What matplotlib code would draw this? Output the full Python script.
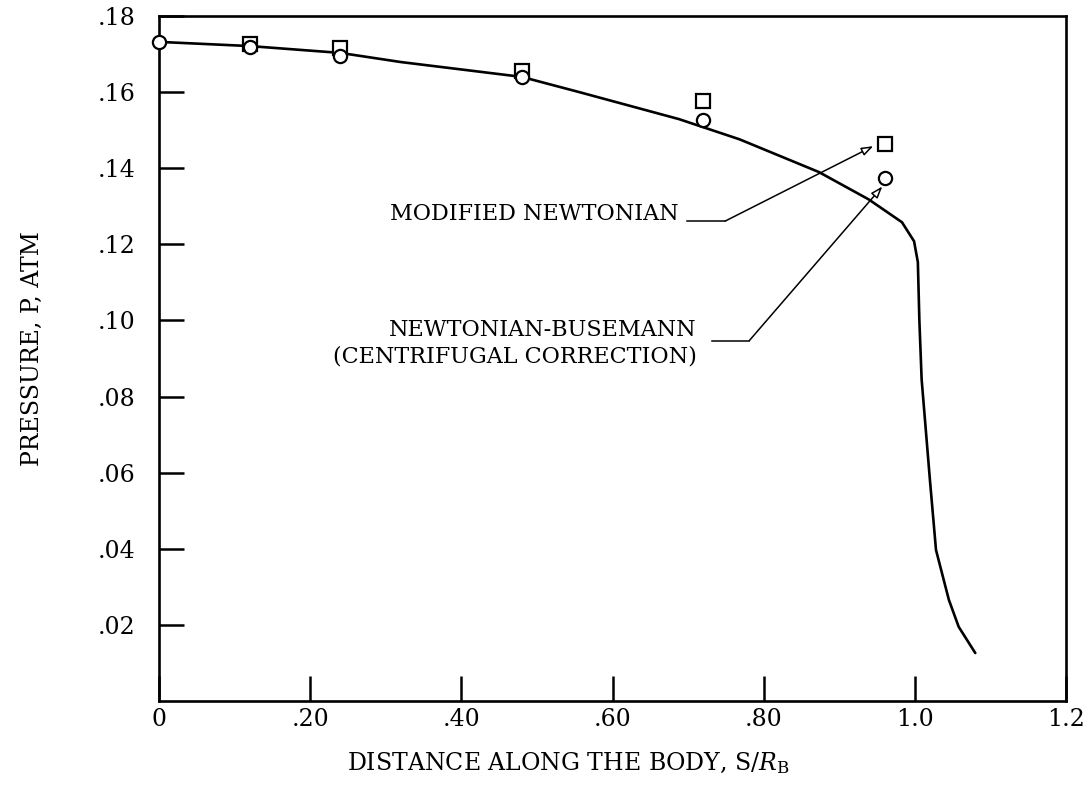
import matplotlib
matplotlib.use("Agg")
import matplotlib.pyplot as plt

# Pressure distribution along the body
s_curve = [0.0, 0.12, 0.24, 0.32, 0.48, 0.556, 0.688, 0.768, 0.873, 0.939,
           0.983, 0.999, 1.004, 1.006, 1.009, 1.020, 1.028, 1.045, 1.058, 1.080]
p_curve = [0.1732, 0.1721, 0.1703, 0.1679, 0.1640, 0.1600, 0.1529, 0.1476,
           0.1390, 0.1318, 0.1258, 0.1208, 0.1153, 0.1000, 0.0845, 0.0580,
           0.0397, 0.0266, 0.0195, 0.0126]

# Modified Newtonian (squares)
s_modified = [0.12, 0.24, 0.48, 0.72, 0.96]
p_modified = [0.1726, 0.1716, 0.1655, 0.1576, 0.1463]

# Newtonian-Busemann with centrifugal correction (circles)
s_busemann = [0.0, 0.12, 0.24, 0.48, 0.72, 0.96]
p_busemann = [0.1732, 0.1718, 0.1695, 0.1640, 0.1526, 0.1374]

x_ticks = [0.0, 0.2, 0.4, 0.6, 0.8, 1.0, 1.2]
x_tick_labels = ["0", ".20", ".40", ".60", ".80", "1.0", "1.2"]
y_ticks = [0.02, 0.04, 0.06, 0.08, 0.10, 0.12, 0.14, 0.16, 0.18]
y_tick_labels = [".02", ".04", ".06", ".08", ".10", ".12", ".14", ".16", ".18"]

FONT = "DejaVu Serif"
plt.rcParams["font.family"] = FONT
plt.rcParams["mathtext.fontset"] = "custom"
plt.rcParams["mathtext.rm"] = FONT
plt.rcParams["mathtext.it"] = FONT + ":italic"

W, H = 1089, 793
fig = plt.figure(figsize=(W / 100, H / 100), dpi=100)
ax = fig.add_axes([159 / W, 1 - 701 / H, (1066 - 159) / W, (701 - 16) / H])

ax.plot(s_curve, p_curve, color="black", lw=1.9, solid_capstyle="round",
        solid_joinstyle="round", zorder=2)
ax.plot(s_modified, p_modified, linestyle="none", marker="s", ms=10.5,
        mfc="white", mec="black", mew=1.6, zorder=3)
ax.plot(s_busemann, p_busemann, linestyle="none", marker="o", ms=9.5,
        mfc="white", mec="black", mew=1.6, zorder=4, clip_on=False)

ax.set_xlim(0, 1.2)
ax.set_ylim(0, 0.18)
ax.set_xticks(x_ticks)
ax.set_xticklabels(x_tick_labels)
ax.set_yticks(y_ticks)
ax.set_yticklabels(y_tick_labels)
ax.tick_params(axis="both", direction="in", length=18, width=1.8,
               labelsize=17, color="black")
ax.tick_params(axis="x", pad=5)
ax.tick_params(axis="y", pad=17)
for sp in ax.spines.values():
    sp.set_linewidth(1.9)

txt_kw = dict(fontsize=16, color="black")
arrow_style = "-|>,head_length=0.7,head_width=0.25"

# Leader for the modified Newtonian label
ax.text(0.688, 0.1279, "MODIFIED NEWTONIAN", ha="right", va="center", **txt_kw)
ax.plot([0.698, 0.749], [0.1261, 0.1261], color="black", lw=1.1)
ax.annotate("", xy=(0.945, 0.1458), xytext=(0.749, 0.1261),
            arrowprops=dict(arrowstyle=arrow_style, fc="white", ec="black",
                            lw=1.1, shrinkA=0, shrinkB=0))

# Leader for the Newtonian-Busemann label
ax.text(0.711, 0.0940, "NEWTONIAN-BUSEMANN\n(CENTRIFUGAL CORRECTION)",
        ha="right", va="center", multialignment="right", linespacing=1.3,
        **txt_kw)
ax.plot([0.731, 0.781], [0.0947, 0.0947], color="black", lw=1.1)
ax.annotate("", xy=(0.957, 0.1352), xytext=(0.781, 0.0947),
            arrowprops=dict(arrowstyle=arrow_style, fc="white", ec="black",
                            lw=1.1, shrinkA=0, shrinkB=0))

fig.text(347 / W, 1 - 763 / H,
         r"DISTANCE ALONG THE BODY, S/$\mathit{R}_{\mathrm{B}}$",
         ha="left", va="center", fontsize=17)
fig.text(32 / W, 1 - 349 / H, "PRESSURE, P, ATM", rotation=90,
         ha="center", va="center", fontsize=17)

fig.savefig("out.png", dpi=100)
